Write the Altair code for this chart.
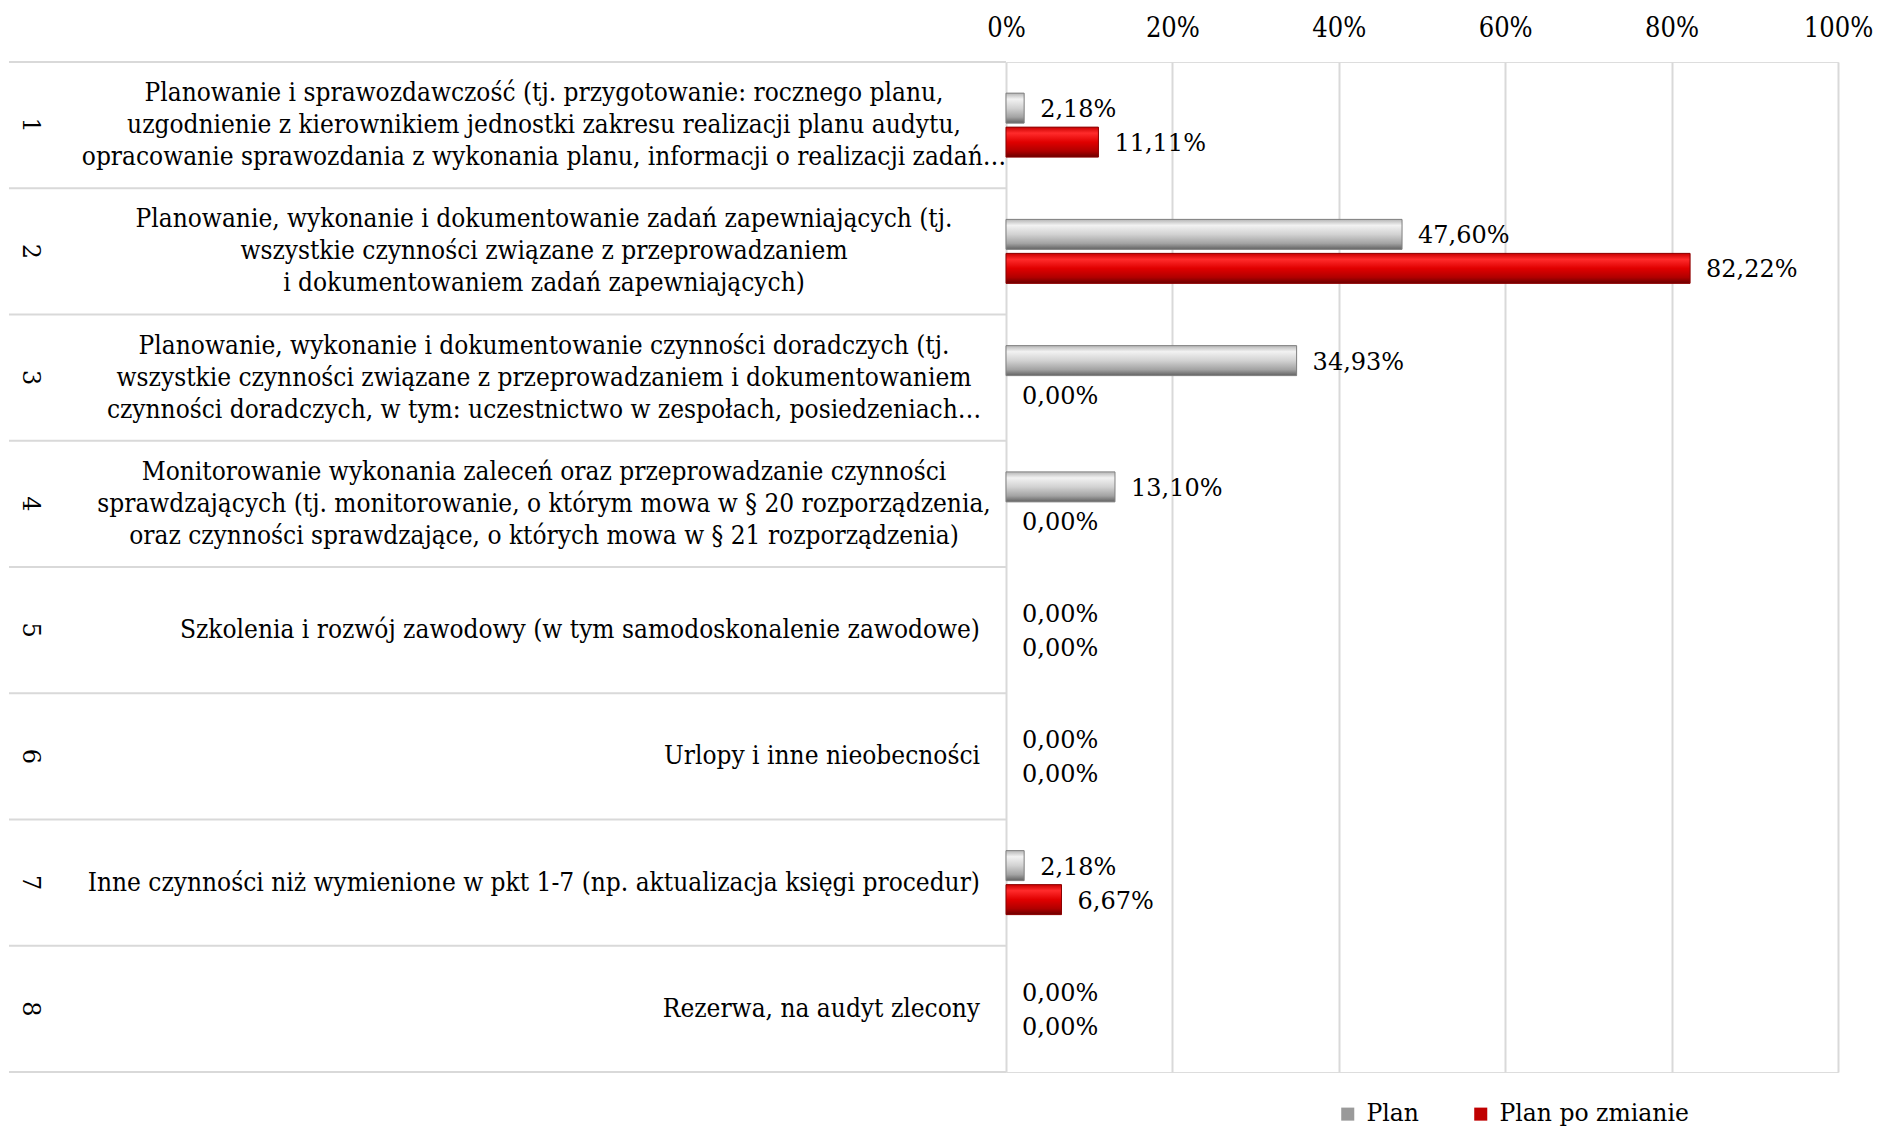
import altair as alt
import pandas as pd

categories = ["1", "2", "3", "4", "5", "6", "7", "8"]
category_labels = [
    "Planowanie i sprawozdawczość (tj. przygotowanie: rocznego planu,\nuzgodnienie z kierownikiem jednostki zakresu realizacji planu audytu,\nopracowanie sprawozdania z wykonania planu, informacji o realizacji zadań…",
    "Planowanie, wykonanie i dokumentowanie zadań zapewniających (tj.\nwszystkie czynności związane z przeprowadzaniem\ni dokumentowaniem zadań zapewniających)",
    "Planowanie, wykonanie i dokumentowanie czynności doradczych (tj.\nwszystkie czynności związane z przeprowadzaniem i dokumentowaniem\nczynności doradczych, w tym: uczestnictwo w zespołach, posiedzeniach…",
    "Monitorowanie wykonania zaleceń oraz przeprowadzanie czynności\nsprawdzających (tj. monitorowanie, o którym mowa w § 20 rozporządzenia,\noraz czynności sprawdzające, o których mowa w § 21 rozporządzenia)",
    "Szkolenia i rozwój zawodowy (w tym samodoskonalenie zawodowe)",
    "Urlopy i inne nieobecności",
    "Inne czynności niż wymienione w pkt 1-7 (np. aktualizacja księgi procedur)",
    "Rezerwa, na audyt zlecony",
]
plan = [2.18, 47.60, 34.93, 13.10, 0.00, 0.00, 2.18, 0.00]
plan_po_zmianie = [11.11, 82.22, 0.00, 0.00, 0.00, 0.00, 6.67, 0.00]
series = ["Plan", "Plan po zmianie"]
x_ticks = [0, 20, 40, 60, 80, 100]

rows = []
for c, p, q in zip(categories, plan, plan_po_zmianie):
    rows.append({"cat": c, "series": series[0], "value": p})
    rows.append({"cat": c, "series": series[1], "value": q})
df = pd.DataFrame(rows)
df["label"] = df["value"].map(lambda v: f"{v:.2f}".replace(".", ",") + "%")

cat_df = pd.DataFrame({
    "cat": categories,
    "text": category_labels,
    "multi": ["\n" in t for t in category_labels],
})

COND = "DejaVu Serif Condensed, DejaVu Serif"
SERIF = "DejaVu Serif"
GRID = "#d9d9d9"

yscale = alt.Scale(domain=categories, paddingInner=0, paddingOuter=0)
y_enc = alt.Y("cat:N", scale=yscale, axis=None)
yoff = alt.YOffset("series:N", scale=alt.Scale(domain=series, paddingInner=0.118, paddingOuter=0.916))
x_enc = alt.X(
    "value:Q",
    scale=alt.Scale(domain=[0, 100]),
    axis=alt.Axis(
        orient="top", values=x_ticks, labelExpr="datum.value + '%'", title=None,
        ticks=False, domain=False, labelFont=COND, labelFontSize=27, labelColor="black",
        labelPadding=20, labelFlush=False, grid=True, gridColor=GRID, gridWidth=2,
    ),
)

gray_grad = alt.Gradient(
    gradient="linear", x1=0, x2=0, y1=0, y2=1,
    stops=[
        alt.GradientStop(color="#b5b5b5", offset=0),
        alt.GradientStop(color="#f2f2f2", offset=0.2),
        alt.GradientStop(color="#d2d2d2", offset=0.5),
        alt.GradientStop(color="#a3a3a3", offset=0.8),
        alt.GradientStop(color="#626262", offset=1),
    ],
)
red_grad = alt.Gradient(
    gradient="linear", x1=0, x2=0, y1=0, y2=1,
    stops=[
        alt.GradientStop(color="#c80000", offset=0),
        alt.GradientStop(color="#ff2b2b", offset=0.2),
        alt.GradientStop(color="#e00000", offset=0.5),
        alt.GradientStop(color="#b00000", offset=0.8),
        alt.GradientStop(color="#6b0000", offset=1),
    ],
)

base_bars = alt.Chart(df).mark_bar(strokeWidth=0).encode(
    x=x_enc, y=y_enc, yOffset=yoff,
    color=alt.Color(
        "series:N",
        scale=alt.Scale(domain=series, range=["#9a9a9a", "#c00000"]),
        legend=alt.Legend(
            orient="none", legendX=330, legendY=1040, direction="horizontal", title=None,
            symbolType="square", symbolSize=170, symbolStrokeWidth=0,
            labelFont=SERIF, labelFontSize=23.5, labelColor="black", labelLimit=0,
            columnPadding=50, labelOffset=7,
        ),
    ),
)

gray_bars = alt.Chart(df).transform_filter(
    (alt.datum.series == series[0]) & (alt.datum.value > 0)
).mark_bar(fill=gray_grad, stroke="#808080", strokeWidth=1).encode(x="value:Q", y=y_enc, yOffset=yoff)

red_bars = alt.Chart(df).transform_filter(
    (alt.datum.series == series[1]) & (alt.datum.value > 0)
).mark_bar(fill=red_grad, stroke="#8c0000", strokeWidth=1).encode(x="value:Q", y=y_enc, yOffset=yoff)

value_labels = alt.Chart(df).mark_text(
    align="left", baseline="middle", dx=16, dy=2, font=SERIF, fontSize=24, color="black"
).encode(x="value:Q", y=y_enc, yOffset=yoff, text="label:N")

multi_labels = alt.Chart(cat_df).transform_filter("datum.multi").mark_text(
    align="center", baseline="middle", lineBreak="\n", font=COND, fontSize=26,
    lineHeight=32, dy=-32, color="black"
).encode(x=alt.value(-462), y=y_enc, text="text:N")

single_labels = alt.Chart(cat_df).transform_filter("!datum.multi").mark_text(
    align="right", baseline="middle", font=COND, fontSize=26, color="black"
).encode(x=alt.value(-26), y=y_enc, text="text:N")

numbers = alt.Chart(cat_df).mark_text(
    angle=90, align="center", baseline="middle", font=SERIF, fontSize=24, color="black"
).encode(x=alt.value(-976), y=y_enc, text="cat:N")

row_rules = alt.Chart(cat_df).mark_rule(color=GRID, strokeWidth=2).encode(
    x=alt.value(-997), x2=alt.value(0),
    y=alt.Y("cat:N", scale=yscale, axis=None, bandPosition=0),
)
bottom_rule = alt.Chart(cat_df).transform_filter(alt.datum.cat == categories[-1]).mark_rule(
    color=GRID, strokeWidth=2
).encode(
    x=alt.value(-997), x2=alt.value(0),
    y=alt.Y("cat:N", scale=yscale, axis=None, bandPosition=1),
)

chart = alt.layer(
    row_rules, bottom_rule, base_bars, gray_bars, red_bars, value_labels,
    multi_labels, single_labels, numbers,
).properties(
    width=832, height=1010,
    padding={"left": 1006, "top": 62, "right": 40, "bottom": 58},
    autosize=alt.AutoSizeParams(type="none"),
).configure_view(stroke=None).configure(background="white")

chart.save("out.html", embed_options={"renderer": "svg", "actions": False})
